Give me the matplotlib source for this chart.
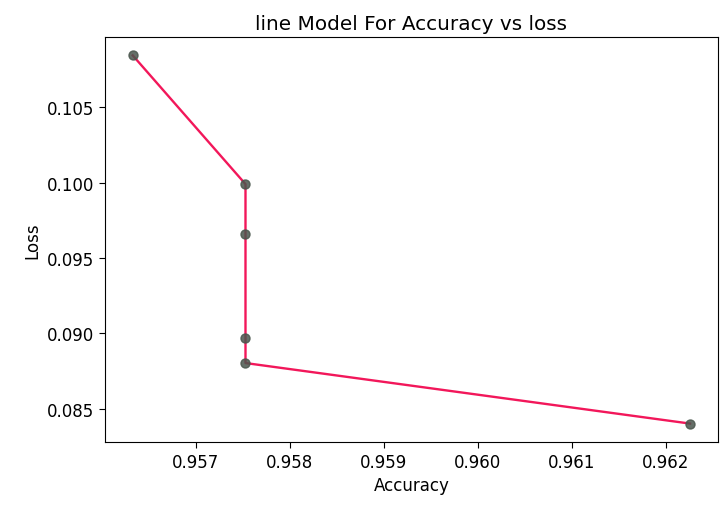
import numpy as np
import matplotlib
matplotlib.use("Agg")
import matplotlib.pyplot as plt

# accuracy / loss pairs
accuracy = [0.95633, 0.95753, 0.95753, 0.95753, 0.95753, 0.96226]
loss = [0.10846, 0.09991, 0.09660, 0.08967, 0.08803, 0.08401]

fig, ax = plt.subplots(figsize=(7.23, 5.06), dpi=100)
fig.subplots_adjust(left=0.145, right=0.993, top=0.925, bottom=0.1245)

ax.plot(accuracy, loss, color='#f2175a', linewidth=1.7, zorder=2)
ax.plot(accuracy, loss, linestyle='none', marker='o', markersize=6.5,
        color='#4a564d', alpha=0.85, zorder=3)

ax.set_title('line Model For Accuracy vs loss', fontsize=14.4)
ax.set_xlabel('Accuracy', fontsize=12)
ax.set_ylabel('Loss', fontsize=12)
ax.tick_params(labelsize=12, length=4.2)
ax.set_xticks([0.957, 0.958, 0.959, 0.960, 0.961, 0.962])
ax.set_yticks([0.085, 0.090, 0.095, 0.100, 0.105])
ax.xaxis.set_major_formatter(matplotlib.ticker.FormatStrFormatter('%.3f'))
ax.yaxis.set_major_formatter(matplotlib.ticker.FormatStrFormatter('%.3f'))

fig.savefig('out.png', dpi=100)
